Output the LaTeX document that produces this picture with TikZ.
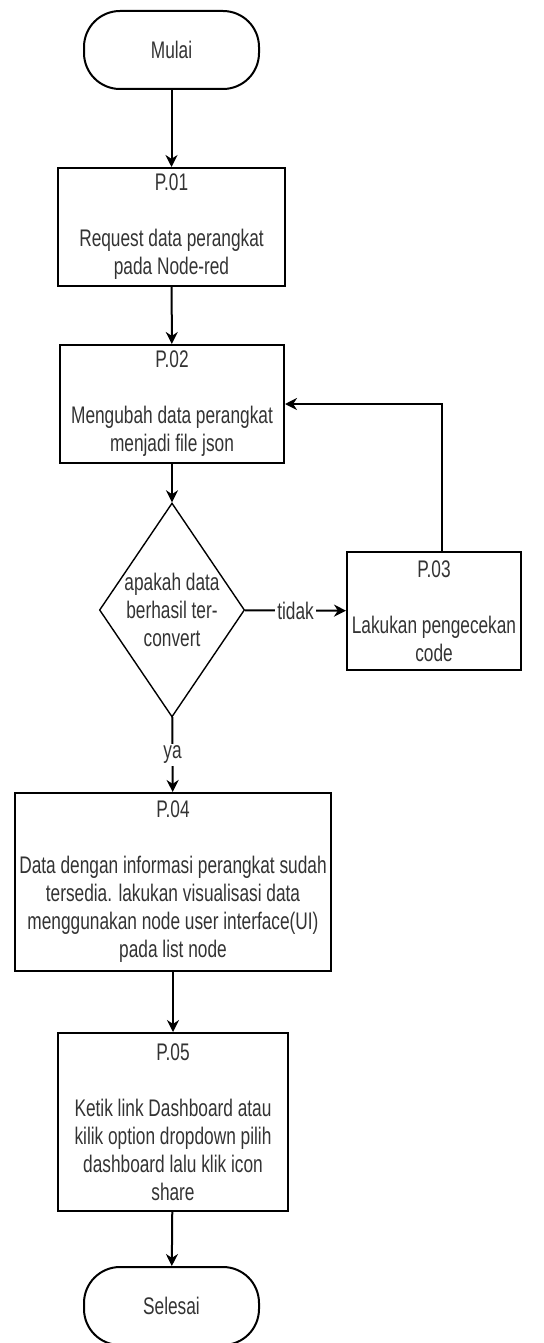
\documentclass[tikz,border=0pt]{standalone}
\usepackage{fontspec}
\setmainfont{Liberation Sans}[FakeStretch=0.72]
\usepackage{xcolor}
\definecolor{textgray}{HTML}{333333}
\usepackage{tikz}
\usetikzlibrary{arrows.meta, shapes.geometric}

\begin{document}
\begin{tikzpicture}[x=0.5pt, y=-0.5pt,
    every node/.style={font=\fontsize{12}{14}\selectfont, text=textgray},
    terminal/.style={draw, line width=1pt, rounded corners=18pt, minimum width=87.5pt, minimum height=39pt},
    proc/.style={draw, line width=1pt, align=center, inner sep=0pt, minimum height=59pt},
    decision/.style={draw, line width=0.7pt, diamond, aspect=0.68, inner sep=0pt, align=center,
                     minimum width=72.5pt, minimum height=107pt},
    arrow/.style={line width=1pt, -{Stealth[length=6pt, width=6pt]}},
    edgelabel/.style={fill=white, inner sep=1pt}
]
  \useasboundingbox (0,0) rectangle (543,1343);

  % Start und erste Schritte
  \node[terminal] (mulai) at (171.5,50) {Mulai};
  \node[proc, minimum width=113.5pt] (p01) at (171.5,227)
    {P.01\\~\\Request data perangkat\\pada Node-red};
  \node[proc, minimum width=112pt] (p02) at (172,404)
    {P.02\\~\\Mengubah data perangkat\\menjadi file json};

  % Entscheidung und Korrektur
  \node[decision] (cek) at (172,610) {apakah data\\berhasil ter-\\convert};
  \node[proc, minimum width=87pt] (p03) at (434,611)
    {P.03\\~\\Lakukan pengecekan\\code};

  % Restliche Schritte und Ende
  \node[proc, minimum width=158pt, minimum height=89pt] (p04) at (173,882)
    {P.04\\~\\Data dengan informasi perangkat sudah\\tersedia. lakukan visualisasi data\\menggunakan node user interface(UI)\\pada list node};
  \node[proc, minimum width=115pt, minimum height=89pt] (p05) at (173,1122)
    {P.05\\~\\Ketik link Dashboard atau\\kilik option dropdown pilih\\dashboard lalu klik icon\\share};
  \node[terminal] (selesai) at (171.5,1306) {Selesai};

  % Pfeile
  \draw[arrow] (mulai) -- (p01);
  \draw[arrow] (p01) -- (p02);
  \draw[arrow] (p02) -- (cek);
  \draw[arrow] (cek) -- node[edgelabel] {tidak} (p03);
  \draw[arrow] ([xshift=4pt]p03.north) |- (p02.east);
  \draw[arrow] (cek) -- node[edgelabel] {ya} (p04);
  \draw[arrow] (p04) -- (p05);
  \draw[arrow] (p05) -- (selesai);

\end{tikzpicture}
\end{document}
